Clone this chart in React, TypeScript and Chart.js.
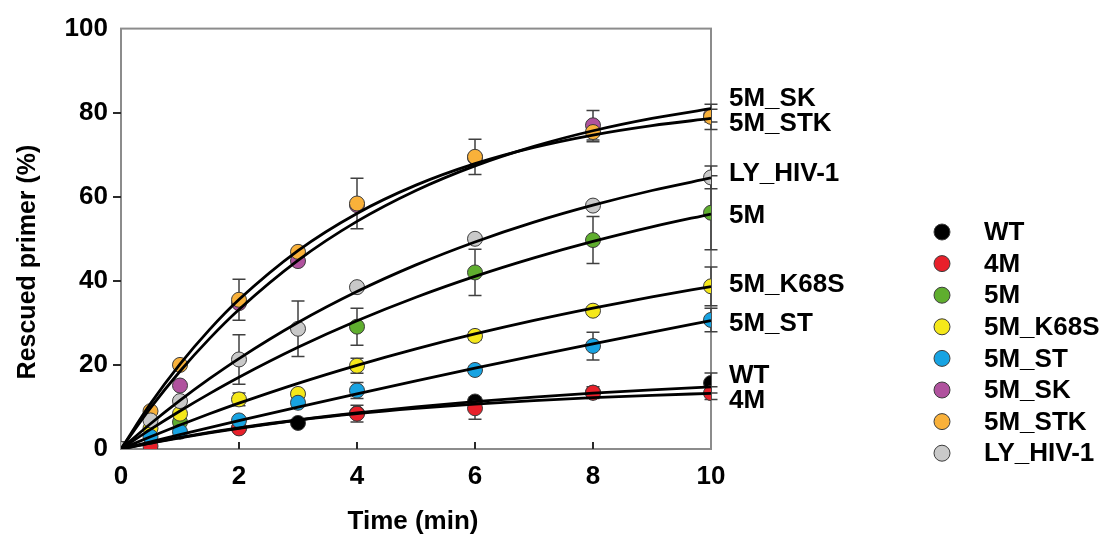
import React, { useEffect, useRef } from "react";
import { Chart, registerables } from "chart.js";

Chart.register(...registerables);

// ---------- data ----------
const seriesNames = ["WT", "4M", "5M", "5M_K68S", "5M_ST", "5M_SK", "5M_STK", "LY_HIV-1"];
const seriesColors = ["#000000", "#e8202a", "#5fae2e", "#f5e81a", "#17a3e2", "#b0529e", "#f9b13a", "#c9c9c9"];

const pointTimes = [0, 0.5, 1, 2, 3, 4, 6, 8, 10];
const wtValues = [0, null, null, 5.0, 6.2, 8.5, 11.3, 13.4, 15.7];
const m4Values = [0, 0.7, null, 4.9, null, 8.4, 9.7, 13.4, 13.3];
const m5Values = [0, null, 6.4, null, null, 29.1, 42.0, 49.7, 56.2];
const k68sValues = [0, 4.9, 8.4, 11.8, 13.1, 19.8, 26.9, 32.9, 38.7];
const stValues = [0, 2.9, 4.1, 6.8, 11.0, 13.9, 18.8, 24.5, 30.7];
const skValues = [0, null, 15.1, 34.7, 44.7, 58.0, 69.3, 77.0, 79.3];
const stkValues = [0, 9.0, 20.0, 35.5, 46.9, 58.4, 69.5, 75.4, 79.0];
const lyValues = [0, 6.8, 11.4, 21.3, 28.6, 38.5, 50.0, 57.9, 64.6];

const wtErrors = [0, 0, 0, 0, 0, 0, 0, 0, 2.4];
const m4Errors = [0, 0, 0, 0, 0, 2.0, 2.6, 1.4, 1.5];
const m5Errors = [0, 0, 0, 0, 0, 4.4, 5.5, 5.6, 8.8];
const k68sErrors = [0, 0, 0, 1.5, 0, 1.8, 1.0, 0.8, 4.6];
const stErrors = [0, 0, 0, 0, 0, 1.9, 0.8, 3.3, 2.8];
const skErrors = [0, 0, 0, 0, 0, 0, 0, 3.5, 1.5];
const stkErrors = [0, 0, 0, 4.9, 0, 6.0, 4.2, 2.3, 3.0];
const lyErrors = [0, 0, 0, 5.9, 6.6, 0, 0, 0, 2.7];

const curveTimes = [0, 0.5, 1, 1.5, 2, 3, 4, 5, 6, 7, 8, 9, 10];
const wtCurve = [0, 1.37, 2.65, 3.83, 4.92, 6.89, 8.57, 10.02, 11.27, 12.35, 13.28, 14.07, 14.76];
const m4Curve = [0, 1.46, 2.77, 3.97, 5.04, 6.9, 8.43, 9.67, 10.69, 11.53, 12.21, 12.77, 13.23];
const m5Curve = [0, 4.66, 9.05, 13.18, 17.07, 24.18, 30.5, 36.1, 41.06, 45.46, 49.37, 52.83, 55.9];
const k68sCurve = [0, 2.92, 5.71, 8.37, 10.9, 15.62, 19.91, 23.82, 27.37, 30.6, 33.53, 36.2, 38.64];
const stCurve = [0, 1.71, 3.41, 5.08, 6.73, 9.98, 13.14, 16.22, 19.22, 22.15, 25.02, 27.81, 30.53];
const skCurve = [0, 9.77, 18.5, 26.26, 33.18, 44.86, 54.14, 61.5, 67.36, 72.0, 75.7, 78.64, 80.97];
const stkCurve = [0, 10.79, 20.19, 28.39, 35.54, 47.19, 56.04, 62.76, 67.87, 71.75, 74.69, 76.93, 78.63];
const lyCurve = [0, 6.0, 11.56, 16.72, 21.51, 30.08, 37.45, 43.79, 49.25, 53.96, 58.0, 61.49, 64.48];

// end-of-curve labels (value at which each label is centred)
const curveLabelTexts = ["5M_SK", "5M_STK", "LY_HIV-1", "5M", "5M_K68S", "5M_ST", "WT", "4M"];
const curveLabelValues = [83.6, 77.5, 65.8, 55.8, 39.2, 30.0, 17.7, 11.8];

const xTickValues = [0, 2, 4, 6, 8, 10];
const yTickValues = [0, 20, 40, 60, 80, 100];

const allValues = [wtValues, m4Values, m5Values, k68sValues, stValues, skValues, stkValues, lyValues];
const allErrors = [wtErrors, m4Errors, m5Errors, k68sErrors, stErrors, skErrors, stkErrors, lyErrors];
const allCurves = [wtCurve, m4Curve, m5Curve, k68sCurve, stCurve, skCurve, stkCurve, lyCurve];

const FONT = "Arial, 'Liberation Sans', sans-serif";
const MARKER_R = 7.5;
const MARKER_EDGE = "#3c3c3c";

const extrasPlugin = {
  id: "extras",
  beforeDatasetsDraw(chart: any) {
    const { ctx, chartArea: a } = chart;
    const x = chart.scales.x;
    const y = chart.scales.y;
    ctx.save();
    // frame
    ctx.strokeStyle = "#8c8c8c";
    ctx.lineWidth = 2;
    ctx.strokeRect(a.left, a.top, a.right - a.left, a.bottom - a.top);
    // ticks
    ctx.strokeStyle = "#2a2a2a";
    ctx.lineWidth = 2;
    xTickValues.slice(1, -1).forEach((v) => {
      const px = Math.round(x.getPixelForValue(v));
      ctx.beginPath();
      ctx.moveTo(px, a.bottom);
      ctx.lineTo(px, a.bottom - 7);
      ctx.stroke();
    });
    yTickValues.slice(1, -1).forEach((v) => {
      const py = Math.round(y.getPixelForValue(v));
      ctx.beginPath();
      ctx.moveTo(a.left - 8, py);
      ctx.lineTo(a.left, py);
      ctx.stroke();
    });
    // error bars
    ctx.strokeStyle = "#404040";
    ctx.lineWidth = 1.5;
    allValues.forEach((vals, si) => {
      const errs = allErrors[si];
      vals.forEach((v, i) => {
        const e = errs[i];
        if (v === null || !e) return;
        const px = x.getPixelForValue(pointTimes[i]);
        const top = y.getPixelForValue(v + e);
        const bot = y.getPixelForValue(v - e);
        ctx.beginPath();
        ctx.moveTo(px, top);
        ctx.lineTo(px, bot);
        ctx.moveTo(px - 6.5, top);
        ctx.lineTo(px + 6.5, top);
        ctx.moveTo(px - 6.5, bot);
        ctx.lineTo(px + 6.5, bot);
        ctx.stroke();
      });
    });
    ctx.restore();
  },
  afterDraw(chart: any) {
    const { ctx, chartArea: a } = chart;
    const y = chart.scales.y;
    ctx.save();
    ctx.fillStyle = "#000";
    ctx.font = `bold 26px ${FONT}`;
    ctx.textBaseline = "middle";
    ctx.textAlign = "left";
    // curve end labels
    curveLabelTexts.forEach((t, i) => {
      ctx.fillText(t, a.right + 18, y.getPixelForValue(curveLabelValues[i]) + 1);
    });
    // legend
    seriesNames.forEach((name, i) => {
      const cy = 232 + i * 31.6;
      ctx.beginPath();
      ctx.arc(942, cy, 8, 0, Math.PI * 2);
      ctx.fillStyle = seriesColors[i];
      ctx.fill();
      ctx.lineWidth = 1;
      ctx.strokeStyle = MARKER_EDGE;
      ctx.stroke();
      ctx.fillStyle = "#000";
      ctx.fillText(name, 984, cy + 1);
    });
    // axis titles
    ctx.textAlign = "center";
    ctx.fillText("Time (min)", 413, 522);
    ctx.font = `bold 25px ${FONT}`;
    ctx.translate(28, 262);
    ctx.rotate(-Math.PI / 2);
    ctx.fillText("Rescued primer (%)", 0, 0);
    ctx.restore();
  },
};

export default function App() {
  const canvasRef = useRef<HTMLCanvasElement | null>(null);

  useEffect(() => {
    const canvas = canvasRef.current;
    if (!canvas) return;

    const datasets: any[] = [];
    allCurves.forEach((c, i) => {
      datasets.push({
        type: "line",
        label: seriesNames[i] + " fit",
        data: curveTimes.map((t, j) => ({ x: t, y: c[j] })),
        borderColor: "#000",
        borderWidth: 2.8,
        pointRadius: 0,
        fill: false,
        showLine: true,
        cubicInterpolationMode: "monotone",
        order: 1,
      });
    });
    allValues.forEach((vals, i) => {
      datasets.push({
        type: "scatter",
        label: seriesNames[i],
        data: pointTimes
          .map((t, j) => ({ x: t, y: vals[j] }))
          .filter((p) => p.y !== null),
        backgroundColor: seriesColors[i],
        borderColor: MARKER_EDGE,
        borderWidth: 1,
        pointRadius: MARKER_R,
        pointHoverRadius: MARKER_R,
        showLine: false,
        order: 20 - i,
      });
    });

    const chart = new Chart(canvas, {
      type: "scatter",
      data: { datasets },
      options: {
        responsive: false,
        animation: false,
        events: [],
        layout: { padding: { left: 0, top: 25, right: 391, bottom: 0 } },
        plugins: { legend: { display: false }, tooltip: { enabled: false } },
        scales: {
          x: {
            type: "linear",
            min: 0,
            max: 10,
            grid: { display: false, drawTicks: false },
            border: { display: false },
            afterFit: (s: any) => {
              s.height = 89;
            },
            afterBuildTicks: (s: any) => {
              s.ticks = xTickValues.map((v) => ({ value: v }));
            },
            ticks: {
              autoSkip: false,
              maxRotation: 0,
              padding: 12,
              color: "#000",
              font: { family: FONT, size: 26, weight: "bold" },
            },
          },
          y: {
            type: "linear",
            min: 0,
            max: 100,
            grid: { display: false, drawTicks: false },
            border: { display: false },
            afterFit: (s: any) => {
              s.width = 121;
            },
            afterBuildTicks: (s: any) => {
              s.ticks = yTickValues.map((v) => ({ value: v }));
            },
            ticks: {
              autoSkip: false,
              padding: 13,
              color: "#000",
              font: { family: FONT, size: 26, weight: "bold" },
            },
          },
        },
      },
      plugins: [extrasPlugin],
    } as any);

    return () => chart.destroy();
  }, []);

  return (
    <div style={{ position: "absolute", left: 0, top: 0, width: 1102, height: 538, background: "#fff" }}>
      <canvas ref={canvasRef} width={1102} height={538} style={{ display: "block" }} />
    </div>
  );
}
